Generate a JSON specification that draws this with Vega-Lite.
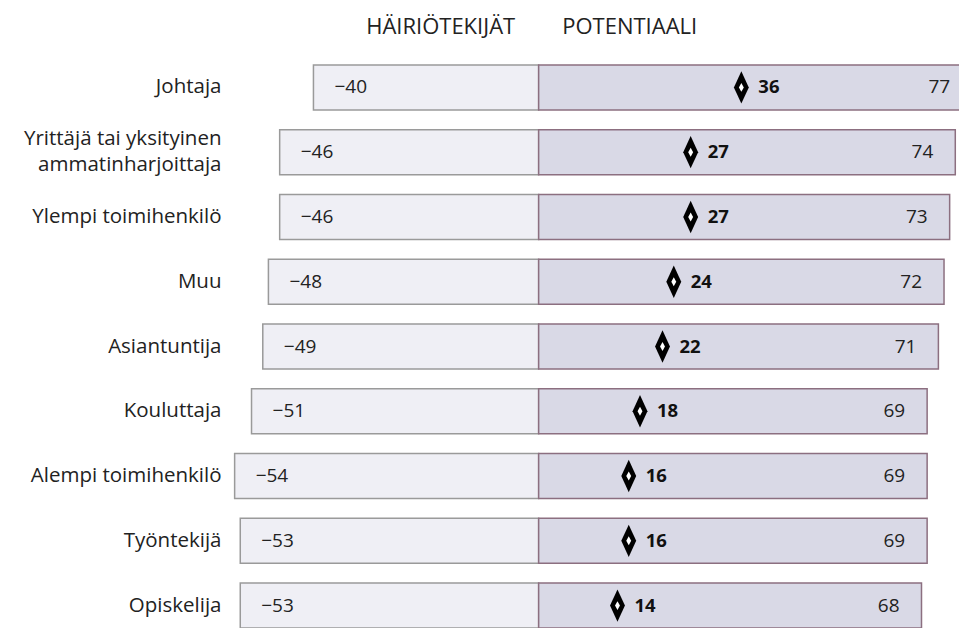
{
  "$schema": "https://vega.github.io/schema/vega-lite/v6.json",
  "autosize": {"type": "none"},
  "padding": {"left": 229, "top": 55, "right": 0, "bottom": 0},
  "width": 730,
  "height": 583,
  "background": "white",
  "config": {"view": {"stroke": null}, "font": "Open Sans"},
  "data": {"values": [
    {"ryhma": "Johtaja", "hairio": -40, "potentiaali": 77, "netto": 36},
    {"ryhma": "Yrittäjä tai yksityinen ammatinharjoittaja", "hairio": -46, "potentiaali": 74, "netto": 27},
    {"ryhma": "Ylempi toimihenkilö", "hairio": -46, "potentiaali": 73, "netto": 27},
    {"ryhma": "Muu", "hairio": -48, "potentiaali": 72, "netto": 24},
    {"ryhma": "Asiantuntija", "hairio": -49, "potentiaali": 71, "netto": 22},
    {"ryhma": "Kouluttaja", "hairio": -51, "potentiaali": 69, "netto": 18},
    {"ryhma": "Alempi toimihenkilö", "hairio": -54, "potentiaali": 69, "netto": 16},
    {"ryhma": "Työntekijä", "hairio": -53, "potentiaali": 69, "netto": 16},
    {"ryhma": "Opiskelija", "hairio": -53, "potentiaali": 68, "netto": 14}
  ]},
  "encoding": {
    "y": {
      "field": "ryhma", "type": "nominal", "sort": null, "title": null,
      "scale": {"paddingInner": 0.305, "paddingOuter": 0.1525},
      "axis": {
        "ticks": false, "domain": false, "labelPadding": 8,
        "labelFontSize": 20.5, "labelColor": "#222", "labelFont": "Open Sans",
        "labelLineHeight": 26, "labelLimit": 300,
        "labelOffset": {"condition": {"test": "indexof(datum.value, 'Yrittäjä') == 0", "value": -13}, "value": 0},
        "labelExpr": "datum.value === 'Yrittäjä tai yksityinen ammatinharjoittaja' ? ['Yrittäjä tai yksityinen', 'ammatinharjoittaja'] : datum.value"
      }
    }
  },
  "layer": [
    {
      "mark": {"type": "bar", "fill": "#efeff5", "stroke": "#9a9a9a", "strokeWidth": 1.5},
      "encoding": {
        "x": {
          "field": "hairio", "type": "quantitative", "title": null,
          "scale": {"domain": [-55, 74.66], "nice": false, "zero": false},
          "axis": {
            "orient": "top", "grid": false, "ticks": false, "domain": false,
            "values": [-4.26, 4.1], "labelPadding": 22, "labelBaseline": "alphabetic",
            "labelFontSize": 22, "labelColor": "#222", "labelFont": "Open Sans",
            "labelOverlap": false, "labelBound": false, "labelFlush": false,
            "labelAlign": {"condition": {"test": "datum.value < 0", "value": "right"}, "value": "left"},
            "labelExpr": "datum.value < 0 ? 'HÄIRIÖTEKIJÄT' : 'POTENTIAALI'"
          }
        },
        "x2": {"datum": 0}
      }
    },
    {
      "mark": {"type": "bar", "fill": "#d9d9e6", "stroke": "#8c6f80", "strokeWidth": 1.5, "clip": true},
      "encoding": {
        "x": {"field": "potentiaali", "type": "quantitative"},
        "x2": {"datum": 0}
      }
    },
    {
      "mark": {"type": "rule", "color": "#000", "strokeWidth": 3},
      "encoding": {"x": {"datum": 0}}
    },
    {
      "mark": {"type": "text", "align": "left", "baseline": "middle", "dx": 21, "fontSize": 19, "color": "#222"},
      "encoding": {
        "x": {"field": "hairio", "type": "quantitative"},
        "text": {"field": "hairio", "type": "quantitative", "format": "d"}
      }
    },
    {
      "mark": {"type": "text", "align": "right", "baseline": "middle", "dx": -22, "fontSize": 19, "color": "#222"},
      "encoding": {
        "x": {"field": "potentiaali", "type": "quantitative"},
        "text": {"field": "potentiaali", "type": "quantitative", "format": "d"}
      }
    },
    {
      "mark": {"type": "point", "filled": true, "color": "#000", "opacity": 1, "size": 1050, "shape": "M0,-1L0.46,0L0,1L-0.46,0Z"},
      "encoding": {"x": {"field": "netto", "type": "quantitative"}}
    },
    {
      "mark": {"type": "point", "filled": true, "color": "#fff", "opacity": 1, "size": 80, "shape": "M0,-1L0.55,0L0,1L-0.55,0Z"},
      "encoding": {"x": {"field": "netto", "type": "quantitative"}}
    },
    {
      "mark": {"type": "text", "align": "left", "baseline": "middle", "dx": 17, "fontSize": 18.5, "fontWeight": "bold", "color": "#111"},
      "encoding": {
        "x": {"field": "netto", "type": "quantitative"},
        "text": {"field": "netto", "type": "quantitative", "format": "d"}
      }
    }
  ]
}
